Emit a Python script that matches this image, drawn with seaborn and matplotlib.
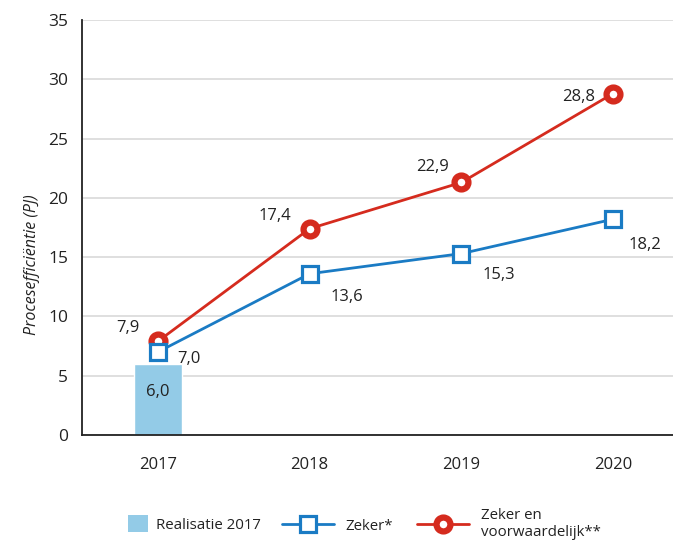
import numpy as np
import pandas as pd
import seaborn as sns
import matplotlib.pyplot as plt
from matplotlib.lines import Line2D
from matplotlib.patches import Patch

years = ["2017", "2018", "2019", "2020"]
bar_value = [6.0]
bar_label = "6,0"
zeker = [7.0, 13.6, 15.3, 18.2]
zeker_labels = ["7,0", "13,6", "15,3", "18,2"]
voorw = [7.9, 17.4, 21.3, 28.8]
voorw_labels = ["7,9", "17,4", "22,9", "28,8"]

sns.set_theme(style="white")
plt.rcParams['font.family'] = ['Open Sans', 'DejaVu Sans']

fig = plt.figure(figsize=(6.73, 5.41), dpi=100)
ax = fig.add_axes([82/673, 1-435/541, 607/673, 415/541])

BLUE = "#1a7bc4"
RED = "#d52b1e"
BARC = "#93cbe7"
tc = "#222222"

df_bar = pd.DataFrame({"year": years[:1], "v": bar_value})
sns.barplot(data=df_bar, x="year", y="v", order=years, color=BARC, width=0.32,
            saturation=1, ax=ax, zorder=2)

xpos = np.arange(len(years))
sq_kw = dict(marker="s", markersize=11, markerfacecolor="white",
             markeredgecolor=BLUE, markeredgewidth=2.3)
ci_kw = dict(marker="o", markersize=10, markerfacecolor="white",
             markeredgecolor=RED, markeredgewidth=4.5)
sns.lineplot(x=xpos, y=zeker, ax=ax, color=BLUE, lw=2, zorder=4, **sq_kw)
sns.lineplot(x=xpos, y=voorw, ax=ax, color=RED, lw=2, zorder=3, **ci_kw)

ax.set_xlim(-0.5, 3.5)
ax.set_ylim(0, 35)
ax.set_yticks(range(0, 36, 5))
ax.set_xticks(xpos)
ax.set_xticklabels(years)
ax.set_xticks(xpos[:-1] + 0.5, minor=True)
ax.tick_params(axis="x", which="major", length=0, pad=16, labelsize=12, colors=tc)
ax.tick_params(axis="x", which="minor", direction="in", length=10, width=1.2, color=tc)
ax.tick_params(axis="y", length=0, pad=10, labelsize=12.5, colors=tc)
ax.yaxis.grid(True, color="#d9d9d9", lw=1.2, zorder=0)
ax.xaxis.grid(False)
ax.set_axisbelow(True)
for s in ["top", "right"]:
    ax.spines[s].set_visible(False)
for s in ["left", "bottom"]:
    ax.spines[s].set_color(tc)
    ax.spines[s].set_linewidth(1.3)
ax.set_xlabel("")
ax.set_ylabel("Procesefficiëntie (PJ)", fontsize=11.5, style="italic", color=tc)
ax.yaxis.set_label_coords(-0.07, 0.41)

fs = 12
ax.text(0, 3.6, bar_label, ha="center", va="center", fontsize=fs, color=tc)
red_off = [(-0.12, 1.1), (-0.12, 1.1), (-0.08, 1.3), (-0.12, -0.3)]
blue_off = [(0.13, -0.6), (0.14, -2.0), (0.14, -1.8), (0.1, -2.2)]
for i in range(4):
    dx, dy = red_off[i]
    ax.text(xpos[i] + dx, voorw[i] + dy, voorw_labels[i], ha="right", va="center",
            fontsize=fs, color=tc)
    dx, dy = blue_off[i]
    ax.text(xpos[i] + dx, zeker[i] + dy, zeker_labels[i], ha="left", va="center",
            fontsize=fs, color=tc)

lfs = 10.8
ycen = 1 - 524/541
fig.legend([Patch(facecolor=BARC, edgecolor="none")], ["Realisatie 2017"],
           loc="center left", bbox_to_anchor=(128/673, ycen), frameon=False,
           fontsize=lfs, handlelength=1.35, handleheight=1.35, handletextpad=0.55,
           borderpad=0, borderaxespad=0, labelcolor=tc)
handles = [
    Line2D([], [], color=BLUE, lw=2, **sq_kw),
    Line2D([], [], color=RED, lw=2, **ci_kw),
]
labels = ["Zeker*", "Zeker en\nvoorwaardelijk**"]
fig.legend(handles, labels, loc="center left", bbox_to_anchor=(282/673, ycen), ncol=2,
           frameon=False, fontsize=lfs, handlelength=3.45,
           columnspacing=1.6, handletextpad=0.8, borderpad=0, borderaxespad=0,
           labelcolor=tc)

fig.savefig("out.png", dpi=100)
